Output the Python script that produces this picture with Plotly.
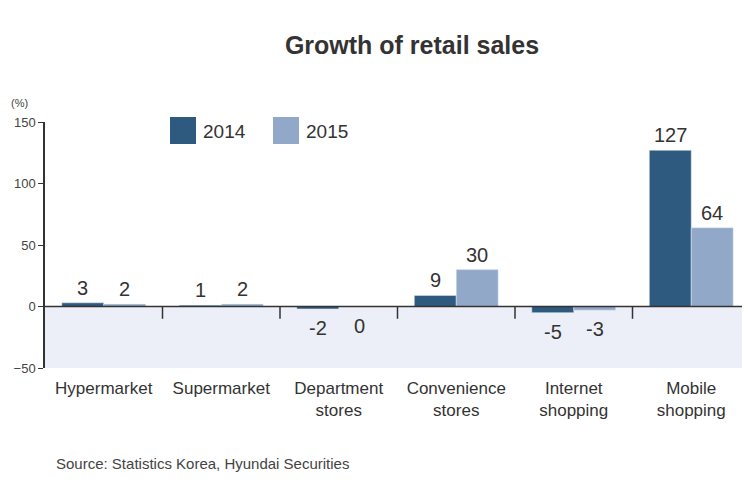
import plotly.graph_objects as go

categories = ["Hypermarket", "Supermarket", "Department<br>stores",
              "Convenience<br>stores", "Internet<br>shopping", "Mobile<br>shopping"]
values_2014 = [3, 1, -2, 9, -5, 127]
values_2015 = [2, 2, 0, 30, -3, 64]
series_names = ["2014", "2015"]
y_ticks = [150, 100, 50, 0, -50]

dark = "#2e5a80"
light = "#91a8c8"
bw = 0.357
idx = list(range(len(categories)))

# page offset compensation (browser body margin)
OFF = 8
W, H = 750 - OFF, 495 - OFF
PL, PT, PW, PH = 45, 122, 705, 246  # desired plot area in screenshot pixels


def px(x):
    return (x - PL) / PW


def py(y):
    return (PT + PH - y) / PH


fig = go.Figure()
fig.add_trace(go.Bar(x=idx, y=values_2014, name=series_names[0], marker_color=dark,
                     width=bw, offset=-bw, showlegend=False))
fig.add_trace(go.Bar(x=idx, y=values_2015, name=series_names[1], marker_color=light,
                     width=bw, offset=0, showlegend=False))

fig.add_shape(type="rect", xref="paper", yref="y", x0=0, x1=1, y0=-50, y1=0,
              fillcolor="#eceff7", line_width=0, layer="below")
fig.add_shape(type="line", xref="paper", yref="y", x0=0, x1=1, y0=0, y1=0,
              line=dict(color="#333333", width=1.5))
for i in idx:
    fig.add_shape(type="line", xref="x", yref="y", x0=i + 0.5, x1=i + 0.5, y0=0, y1=-10,
                  line=dict(color="#333333", width=1.5))

annotations = []
for vals, off in ((values_2014, -bw / 2), (values_2015, bw / 2)):
    for i, v in zip(idx, vals):
        pos = v > 0
        annotations.append(dict(x=i + off, y=v, xref="x", yref="y", text=str(v),
                                showarrow=False, yanchor="bottom" if pos else "top",
                                yshift=2 if pos else -6,
                                font=dict(size=20, color="#333333")))

for k, (name, col) in enumerate(zip(series_names, [dark, light])):
    x0 = 170 + k * 103
    fig.add_shape(type="rect", xref="paper", yref="paper",
                  x0=px(x0), x1=px(x0 + 26), y0=py(144), y1=py(117),
                  fillcolor=col, line_width=0)
    annotations.append(dict(x=px(x0 + 31), y=py(131), xref="paper", yref="paper",
                            text=name, showarrow=False, xanchor="left", yanchor="middle",
                            font=dict(size=19, color="#333333")))

annotations.append(dict(x=px(20), y=py(103), xref="paper", yref="paper", text="(%)",
                        showarrow=False, xanchor="center", yanchor="middle",
                        font=dict(size=11, color="#444444")))
annotations.append(dict(x=px(54), y=py(463), xref="paper", yref="paper",
                        text="Source: Statistics Korea, Hyundai Securities", showarrow=False,
                        xanchor="left", yanchor="middle", font=dict(size=15, color="#444444")))

fig.update_layout(
    width=W, height=H,
    margin=dict(l=PL - OFF, r=W - (PL - OFF) - PW, t=PT - OFF, b=H - (PT - OFF) - PH),
    paper_bgcolor="white", plot_bgcolor="white",
    font=dict(family="Liberation Sans, Arial, sans-serif", color="#333333"),
    title=dict(text="<b>Growth of retail sales</b>", x=(412 - OFF) / W, xanchor="center",
               y=1 - (45 - OFF) / H, yanchor="middle", font=dict(size=25, color="#333333")),
    annotations=annotations,
)
fig.update_xaxes(tickvals=idx, ticktext=categories, range=[-0.5, len(categories) - 0.5],
                 showline=False, showgrid=False, zeroline=False, ticks="",
                 ticklabelstandoff=8, tickfont=dict(size=17, color="#333333"))
fig.update_yaxes(range=[-50, 150], tickvals=y_ticks, showgrid=False, zeroline=False,
                 showline=True, linecolor="#333333", linewidth=1.5, ticks="outside",
                 ticklen=5, tickcolor="#333333", tickfont=dict(size=13, color="#444444"))

fig.write_html("out.html")
